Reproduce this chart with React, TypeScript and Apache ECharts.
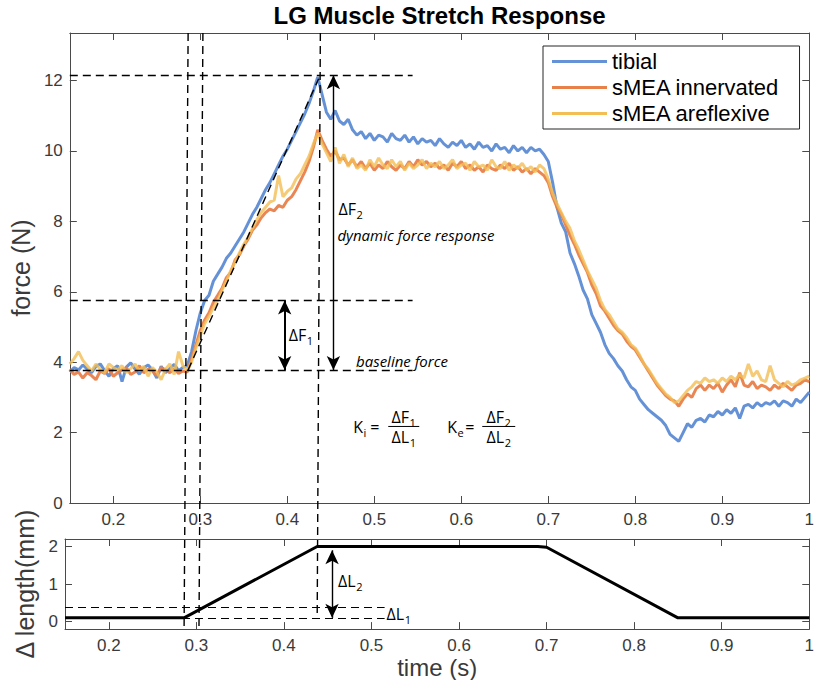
import React, { useEffect, useRef } from "react";
import * as echarts from "echarts";

// ---------- data ----------
const T0 = 0.15;
const DT = 0.005;

const tibial = [
  3.72, 3.85, 3.78, 3.92, 3.80, 3.70, 3.88, 3.95, 3.76, 3.60,
  3.82, 3.90, 3.45, 3.86, 3.98, 3.80, 3.66, 3.84, 3.92, 3.78,
  3.55, 3.88, 3.70, 3.82, 3.94, 3.76, 3.85, 3.90, 4.30, 4.90,
  5.40, 5.75, 5.90, 6.30, 6.50, 6.70, 6.95, 7.10, 7.30, 7.50,
  7.70, 7.95, 8.20, 8.40, 8.65, 8.90, 9.10, 9.35, 9.60, 9.85,
  10.05, 10.30, 10.55, 10.80, 11.05, 11.35, 11.70, 12.10, 11.60, 11.10,
  10.90, 11.15, 10.85, 10.75, 10.90, 10.60, 10.45, 10.55, 10.35, 10.50,
  10.30, 10.45, 10.40, 10.25, 10.50, 10.35, 10.30, 10.45, 10.25, 10.40,
  10.20, 10.35, 10.25, 10.30, 10.15, 10.35, 10.20, 10.10, 10.25, 10.15,
  10.30, 10.10, 10.20, 10.05, 10.25, 10.10, 10.15, 10.00, 10.20, 10.05,
  10.10, 9.95, 10.15, 10.00, 10.10, 9.95, 10.10, 10.00, 10.05, 9.90,
  9.70, 9.10, 8.40, 7.95, 7.70, 7.10, 6.80, 6.45, 6.05, 5.80,
  5.35, 5.10, 4.85, 4.50, 4.25, 4.10, 3.90, 3.75, 3.50, 3.30,
  3.20, 2.95, 2.80, 2.65, 2.55, 2.45, 2.35, 2.20, 1.95, 1.85,
  1.75, 2.00, 2.25, 2.15, 2.35, 2.40, 2.30, 2.50, 2.45, 2.60,
  2.50, 2.65, 2.55, 2.70, 2.40, 2.75, 2.80, 2.70, 2.85, 2.75,
  2.85, 2.80, 2.90, 2.75, 2.90, 2.85, 2.75, 2.95, 2.85, 3.00,
  3.15,
];

const innervated = [
  3.80, 3.65, 3.72, 3.55, 3.70, 3.62, 3.50, 3.75, 3.68, 3.82,
  3.60, 3.70, 3.78, 3.85, 3.65, 3.72, 3.90, 3.70, 3.80, 3.75,
  3.62, 3.85, 3.78, 3.70, 3.82, 3.68, 3.75, 3.72, 4.10, 4.50,
  4.90, 5.20, 5.40, 5.70, 5.90, 6.10, 6.40, 6.55, 6.90, 7.05,
  7.30, 7.50, 7.75, 7.90, 8.10, 8.25, 8.35, 8.30, 8.45, 8.40,
  8.60, 8.70, 8.90, 9.15, 9.40, 9.70, 10.10, 10.60, 10.30, 10.05,
  9.85, 10.00, 9.75, 9.80, 9.60, 9.75, 9.55, 9.70, 9.50, 9.65,
  9.45, 9.60, 9.50, 9.70, 9.55, 9.45, 9.60, 9.50, 9.70, 9.55,
  9.75, 9.60, 9.70, 9.55, 9.65, 9.50, 9.60, 9.45, 9.65, 9.55,
  9.70, 9.50, 9.60, 9.45, 9.55, 9.40, 9.60, 9.50, 9.45, 9.60,
  9.50, 9.65, 9.45, 9.55, 9.40, 9.50, 9.35, 9.50, 9.40, 9.30,
  9.10, 8.70, 8.40, 8.20, 7.90, 7.60, 7.35, 7.05, 6.80, 6.55,
  6.20, 5.95, 5.60, 5.45, 5.25, 5.05, 4.90, 4.80, 4.60, 4.45,
  4.35, 4.15, 3.95, 3.75, 3.55, 3.35, 3.20, 3.05, 2.95, 2.90,
  2.75, 2.95, 3.10, 3.00, 3.25, 3.35, 3.20, 3.35, 3.25, 3.40,
  3.15, 3.35, 3.50, 3.30, 3.70, 3.35, 3.30, 3.45, 3.25, 3.35,
  3.30, 3.20, 3.35, 3.25, 3.40, 3.30, 3.20, 3.35, 3.40, 3.50,
  3.45,
];

const areflexive = [
  3.95, 4.10, 4.30, 4.05, 3.90, 3.75, 3.95, 3.80, 3.70, 3.95,
  3.85, 3.78, 3.90, 3.70, 3.82, 3.95, 3.75, 3.88, 3.60, 3.85,
  3.72, 3.50, 3.80, 3.95, 3.65, 4.30, 3.90, 3.75, 4.00, 4.40,
  4.75, 5.10, 5.30, 5.55, 5.75, 6.05, 6.30, 6.60, 6.85, 7.10,
  7.35, 7.55, 7.80, 8.05, 8.25, 8.40, 8.55, 8.60, 9.30, 8.70,
  8.85, 8.95, 9.20, 9.35, 9.60, 9.85, 10.20, 10.50, 10.20, 9.95,
  9.70, 10.10, 9.65, 9.90, 9.55, 9.80, 9.50, 9.60, 9.45, 9.75,
  9.55, 9.80, 9.60, 9.50, 9.75, 9.55, 9.70, 9.45, 9.65, 9.50,
  9.60, 9.75, 9.50, 9.65, 9.55, 9.70, 9.50, 9.60, 9.75, 9.50,
  9.60, 9.65, 9.45, 9.70, 9.55, 9.60, 9.45, 9.75, 9.55, 9.50,
  9.70, 9.45, 9.60, 9.50, 9.65, 9.45, 9.55, 9.40, 9.60, 9.50,
  9.20, 8.80, 8.50, 8.25, 8.00, 7.80, 7.45, 7.20, 6.90, 6.60,
  6.35, 6.10, 5.75, 5.50, 5.35, 5.15, 4.95, 4.85, 4.70, 4.50,
  4.40, 4.20, 3.95, 3.80, 3.60, 3.40, 3.25, 3.10, 3.00, 2.85,
  2.90, 3.05, 3.20, 3.30, 3.45, 3.40, 3.55, 3.45, 3.50, 3.40,
  3.55, 3.45, 3.60, 3.50, 3.65, 3.55, 3.95, 3.60, 3.75, 3.50,
  3.45, 3.90, 3.50, 3.40, 3.30, 3.45, 3.35, 3.40, 3.50, 3.55,
  3.60,
];

const time = tibial.map((_, i) => Number((T0 + i * DT).toFixed(3)));

const lengthT = [0.15, 0.286, 0.438, 0.69, 0.7, 0.85, 1.0];
const lengthV = [0.1, 0.1, 2.0, 2.0, 1.98, 0.1, 0.1];

const xTicks = [0.2, 0.3, 0.4, 0.5, 0.6, 0.7, 0.8, 0.9, 1.0];
const forceTicks = [0, 2, 4, 6, 8, 10, 12];
const lengthTicks = [0, 1, 2];

const X_MIN = 0.15;
const X_MAX = 1.0;
const F_MIN = 0;
const F_MAX = 13.35;
const L_MIN = -0.2;
const L_MAX = 2.2;

// annotation reference values
const tOnset = 0.286;
const tInit = 0.303;
const tPeak = 0.438;
const fBase = 3.78;
const fInit = 5.75;
const fPeak = 12.15;
const fDashEnd = 0.544;
const lDashLow = 0.08;
const lDashHigh = 0.37;
const lDashEnd = 0.515;
const tArrowF2 = 0.453;
const tArrowF1 = 0.397;
const tArrowL2 = 0.455;

const C_TIBIAL = "#6592D6";
const C_INNERV = "#E8804A";
const C_AREFL = "#F2BE55";

const AX = "#4a4a4a";
const TICK_FONT = "'Liberation Sans', Arial, Helvetica, sans-serif";
const ANN_FONT = "'Open Sans', 'Noto Sans', sans-serif";

function App() {
  const ref = useRef<HTMLDivElement>(null);

  useEffect(() => {
    if (!ref.current) return;
    const chart = echarts.init(ref.current, undefined, { renderer: "svg" });

    const xAxisCommon = (gridIndex: number, position: "bottom" | "top", showLabel: boolean, name?: string) => ({
      type: "value" as const,
      gridIndex,
      position,
      min: X_MIN,
      max: X_MAX,
      splitLine: { show: false },
      axisLine: { show: true, onZero: false, lineStyle: { color: AX, width: 1 } },
      axisTick: { show: true, inside: true, length: 7, customValues: xTicks, lineStyle: { color: AX } },
      axisLabel: {
        show: showLabel,
        customValues: xTicks,
        margin: 8,
        color: "#3a3a3a",
        fontSize: 17,
        fontFamily: TICK_FONT,
        formatter: (v: number) => (v === 1 ? "1" : v.toFixed(1)),
      },
      name: name,
      nameLocation: "middle" as const,
      nameGap: 20,
      nameTextStyle: { fontSize: 24, color: "#3a3a3a", fontFamily: TICK_FONT },
    });

    const yAxisCommon = (gridIndex: number, position: "left" | "right", min: number, max: number, ticks: number[], showLabel: boolean, name?: string, nameGap = 30) => ({
      type: "value" as const,
      gridIndex,
      position,
      min,
      max,
      splitLine: { show: false },
      axisLine: { show: true, onZero: false, lineStyle: { color: AX, width: 1 } },
      axisTick: { show: true, inside: true, length: 7, customValues: ticks, lineStyle: { color: AX } },
      axisLabel: {
        show: showLabel,
        customValues: ticks,
        margin: 7,
        color: "#3a3a3a",
        fontSize: 17,
        fontFamily: TICK_FONT,
      },
      name: name,
      nameLocation: "middle" as const,
      nameGap,
      nameTextStyle: { fontSize: 25, color: "#3a3a3a", fontFamily: TICK_FONT },
    });

    const dash = { type: [8, 5] as number[], color: "#000", width: 1.4 };

    const option: any = {
      animation: false,
      grid: [
        { left: 65, top: 33, width: 753, height: 470 },
        { left: 65, top: 539, width: 753, height: 91 },
      ],
      xAxis: [
        xAxisCommon(0, "bottom", true),
        xAxisCommon(0, "top", false),
        xAxisCommon(1, "bottom", true, "time (s)"),
        xAxisCommon(1, "top", false),
      ],
      yAxis: [
        yAxisCommon(0, "left", F_MIN, F_MAX, forceTicks, true, "force (N)", 28),
        yAxisCommon(0, "right", F_MIN, F_MAX, forceTicks, false),
        yAxisCommon(1, "left", L_MIN, L_MAX, lengthTicks, true, "Δ length(mm)", 26),
        yAxisCommon(1, "right", L_MIN, L_MAX, lengthTicks, false),
      ],
      legend: {
        orient: "vertical",
        left: 543,
        top: 46,
        itemWidth: 55,
        itemHeight: 3,
        itemGap: 1,
        icon: "rect",
        selectedMode: false,
        padding: [3, 20, 3, 9],
        borderColor: "#262626",
        borderWidth: 1,
        backgroundColor: "#fff",
        textStyle: { fontSize: 22, lineHeight: 25, color: "#000", fontFamily: TICK_FONT },
        data: ["tibial", "sMEA innervated", "sMEA areflexive"],
      },
      series: [
        {
          name: "tibial",
          type: "line",
          xAxisIndex: 0,
          yAxisIndex: 0,
          showSymbol: false,
          silent: true,
          lineStyle: { width: 3, color: C_TIBIAL },
          itemStyle: { color: C_TIBIAL },
          data: time.map((t, i) => [t, tibial[i]]),
        },
        {
          name: "sMEA innervated",
          type: "line",
          xAxisIndex: 0,
          yAxisIndex: 0,
          showSymbol: false,
          silent: true,
          lineStyle: { width: 3, color: C_INNERV, opacity: 0.95 },
          itemStyle: { color: C_INNERV },
          data: time.map((t, i) => [t, innervated[i]]),
        },
        {
          name: "sMEA areflexive",
          type: "line",
          xAxisIndex: 0,
          yAxisIndex: 0,
          showSymbol: false,
          silent: true,
          lineStyle: { width: 3, color: C_AREFL, opacity: 0.8 },
          itemStyle: { color: C_AREFL },
          data: time.map((t, i) => [t, areflexive[i]]),
        },
        {
          name: "force annotations",
          type: "line",
          xAxisIndex: 0,
          yAxisIndex: 0,
          data: [],
          silent: true,
          z: 5,
          markLine: {
            silent: true,
            animation: false,
            symbol: ["none", "none"],
            label: { show: false },
            lineStyle: dash,
            data: [
              [{ coord: [X_MIN, fPeak] }, { coord: [fDashEnd, fPeak] }],
              [{ coord: [X_MIN, fInit] }, { coord: [fDashEnd, fInit] }],
              [{ coord: [X_MIN, fBase] }, { coord: [fDashEnd, fBase] }],
              [{ coord: [tOnset, fBase] }, { coord: [tPeak - 0.002, 12.05] }],
              [
                { coord: [tArrowF2, fPeak], symbol: "arrow", symbolSize: [10, 14], lineStyle: { type: "solid", width: 1.4, color: "#000" } },
                { coord: [tArrowF2, fBase], symbol: "arrow", symbolSize: [10, 14] },
              ],
              [
                { coord: [tArrowF1, fInit], symbol: "arrow", symbolSize: [10, 14], lineStyle: { type: "solid", width: 2, color: "#000" } },
                { coord: [tArrowF1, fBase], symbol: "arrow", symbolSize: [10, 14] },
              ],
            ],
          },
        },
        {
          name: "length",
          type: "line",
          xAxisIndex: 2,
          yAxisIndex: 2,
          showSymbol: false,
          silent: true,
          lineStyle: { width: 3, color: "#000" },
          itemStyle: { color: "#000" },
          data: lengthT.map((t, i) => [t, lengthV[i]]),
          markLine: {
            silent: true,
            animation: false,
            symbol: ["none", "none"],
            label: { show: false },
            lineStyle: { ...dash, width: 1.2 },
            data: [
              [{ coord: [X_MIN, lDashHigh] }, { coord: [lDashEnd, lDashHigh] }],
              [{ coord: [X_MIN, lDashLow] }, { coord: [lDashEnd, lDashLow] }],
              [
                { coord: [tArrowL2, 1.9], symbol: "arrow", symbolSize: [10, 14], lineStyle: { type: "solid", width: 1.4, color: "#000" } },
                { coord: [tArrowL2, 0.1], symbol: "arrow", symbolSize: [10, 14] },
              ],
            ],
          },
        },
      ],
    };

    chart.setOption(option);

    // ---- annotations positioned through the axes' scales ----
    const canvas = document.createElement("canvas");
    const ctx = canvas.getContext("2d")!;
    const measure = (s: string, size: number, italic = false) => {
      ctx.font = `${italic ? "italic " : ""}${size}px 'Open Sans'`;
      return ctx.measureText(s).width;
    };
    const p0 = (x: number, y: number) => chart.convertToPixel({ gridIndex: 0 }, [x, y]) as number[];
    const p1 = (x: number, y: number) => chart.convertToPixel({ gridIndex: 1 }, [x, y]) as number[];

    const txt = (x: number, y: number, s: string, size: number, italic = false, align = "left") => ({
      type: "text",
      x,
      y,
      silent: true,
      z: 100,
      style: {
        text: s,
        fill: "#000",
        fontSize: size,
        fontFamily: ANN_FONT,
        fontStyle: italic ? "italic" : "normal",
        align,
        verticalAlign: "middle",
      },
    });
    const withSub = (x: number, y: number, main: string, sub: string, size = 16) => {
      const w = measure(main, size);
      return [txt(x, y, main, size), txt(x + w + 0.5, y + size * 0.32, sub, Math.round(size * 0.7))];
    };
    const subWidth = (main: string, sub: string, size = 16) => measure(main, size) + 0.5 + measure(sub, Math.round(size * 0.7));

    const graphics: any[] = [];

    // title
    const pl = p0(X_MIN, F_MAX);
    const pr = p0(X_MAX, F_MAX);
    graphics.push({
      type: "text",
      x: (pl[0] + pr[0]) / 2,
      y: 15,
      silent: true,
      style: {
        text: "LG Muscle Stretch Response",
        fill: "#000",
        fontSize: 24,
        fontWeight: "bold",
        fontFamily: TICK_FONT,
        align: "center",
        verticalAlign: "middle",
      },
    });

    // vertical dashed lines spanning both panels
    const vLine = (t: number, lBottom: number) => {
      const a = p0(t, F_MAX);
      const b = p1(t, lBottom);
      return {
        type: "line",
        silent: true,
        z: 50,
        shape: { x1: a[0], y1: a[1], x2: b[0], y2: b[1] },
        style: { stroke: "#000", lineWidth: 1.4, lineDash: [8, 5] },
      };
    };
    graphics.push(vLine(tOnset, L_MIN), vLine(tInit, L_MIN), vLine(tPeak, lDashLow));

    // ΔF2 / dynamic force response
    const a2 = p0(tArrowF2, 8.35);
    graphics.push(...withSub(a2[0] + 5, a2[1], "ΔF", "2"));
    const dyn = p0(tArrowF2, 7.62);
    graphics.push(txt(dyn[0] + 4, dyn[1], "dynamic force response", 15, true));

    // ΔF1
    const a1 = p0(tArrowF1, 4.77);
    graphics.push(...withSub(a1[0] + 4, a1[1], "ΔF", "1"));

    // baseline force
    const bf = p0(0.479, 4.02);
    graphics.push(txt(bf[0], bf[1], "baseline force", 15, true));

    // ΔL2, ΔL1
    const l2 = p1(tArrowL2, 1.08);
    graphics.push(...withSub(l2[0] + 6, l2[1], "ΔL", "2"));
    const l1 = p1(lDashEnd, 0.19);
    graphics.push(...withSub(l1[0] + 2, l1[1], "ΔL", "1"));

    // formulas
    const fa = p0(0.4758, 2.16);
    const fx = fa[0];
    const fy = fa[1];
    const frac = (cx: number, num: string[], den: string[], x1: number, x2: number) => {
      const wn = subWidth(num[0], num[1]);
      const wd = subWidth(den[0], den[1]);
      return [
        ...withSub(cx - wn / 2, fy - 10, num[0], num[1]),
        ...withSub(cx - wd / 2, fy + 10.5, den[0], den[1]),
        {
          type: "line",
          silent: true,
          shape: { x1, y1: fy - 0.5, x2, y2: fy - 0.5 },
          style: { stroke: "#000", lineWidth: 1 },
        },
      ];
    };
    graphics.push(...withSub(fx, fy, "K", "i"));
    graphics.push(txt(fx + 17, fy, "=", 16));
    graphics.push(...frac(fx + 50.5, ["ΔF", "1"], ["ΔL", "1"], fx + 35, fx + 66));
    graphics.push(...withSub(fx + 94, fy, "K", "e"));
    graphics.push(txt(fx + 112, fy, "=", 16));
    graphics.push(...frac(fx + 145.5, ["ΔF", "2"], ["ΔL", "2"], fx + 129, fx + 162));

    chart.setOption({ graphic: graphics });

    return () => chart.dispose();
  }, []);

  return (
    <div
      ref={ref}
      style={{ position: "fixed", left: 0, top: 0, width: 817, height: 680, background: "#fff" }}
    />
  );
}

export default App;
